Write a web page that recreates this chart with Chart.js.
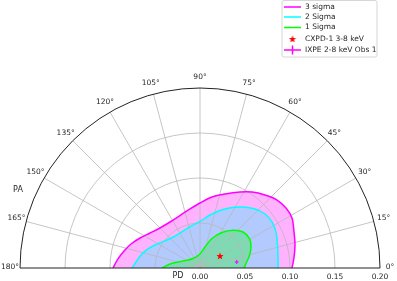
<!DOCTYPE html>
<html>
<head>
<meta charset="utf-8">
<script src="https://cdn.jsdelivr.net/npm/chart.js@4.4.1/dist/chart.umd.min.js"></script>
<style>
  html, body { margin: 0; padding: 0; background: #fff; }
  canvas { display: block; }
</style>
</head>
<body>
<canvas id="myChart" width="397" height="281"></canvas>
<script>
// confidence contours: PD (radius) and PA (degrees)
const sigma3PD = [0.0967, 0.0917, 0.0865, 0.0812, 0.0745, 0.0678, 0.0629, 0.0610, 0.0624, 0.0665, 0.0722,
                  0.0800, 0.0868, 0.0954, 0.1023, 0.1086, 0.1141, 0.1165, 0.1163, 0.1119, 0.1086, 0.1050, 0.1022];
const sigma3PA = [180, 173.7, 167.4, 160.8, 153.4, 145.0, 135.0, 123.1, 110.9, 99.6, 90,
                  80.4, 71.3, 62.2, 55.6, 48.3, 41.4, 34.9, 28.5, 21.0, 13.6, 6.1, 0];

const sigma2PD = [0.0756, 0.0714, 0.0671, 0.0615, 0.0547, 0.0481, 0.0449, 0.0453, 0.0480, 0.0517,
                  0.0599, 0.0677, 0.0760, 0.0829, 0.0896, 0.0939, 0.0949, 0.0934, 0.0898, 0.0874, 0.0867];
const sigma2PA = [180, 174.6, 167.6, 159.9, 150.8, 139.7, 126.4, 113.1, 100.7, 90,
                  79.3, 70.8, 62.1, 54.8, 47.0, 39.7, 32.6, 25.3, 16.5, 7.3, 0];

const sigma1PD = [0.0422, 0.0336, 0.0253, 0.0176, 0.0131, 0.0156, 0.0240, 0.0354,
                  0.0464, 0.0557, 0.0623, 0.0639, 0.0613, 0.0568, 0.0523, 0.0489];
const sigma1PA = [180, 172.4, 164.7, 151.8, 126.4, 90, 76.6, 67.9,
                  58.2, 48.8, 39.9, 30.6, 22.4, 14.4, 7.3, 0];

// measurements
const cxpdPD = [0.0259];
const cxpdPA = [31.0];
const ixpePD = [0.0413];
const ixpePA = [9.3];

// axes
const pdRings = [0.05, 0.10, 0.15, 0.20];
const pdTicks = [0.00, 0.05, 0.10, 0.15, 0.20];
const paTicks = [0, 15, 30, 45, 60, 75, 90, 105, 120, 135, 150, 165, 180];

const toXY = (pd, pa) => pd.map((r, i) => ({
  x: r * Math.cos(pa[i] * Math.PI / 180),
  y: r * Math.sin(pa[i] * Math.PI / 180)
}));

const FONT = '7.5px "DejaVu Sans"';
const TEXT = '#262626';

// filled red star for the CXPD point
const starImg = (() => {
  const c = document.createElement('canvas');
  c.width = 8; c.height = 8;
  const g = c.getContext('2d');
  g.fillStyle = '#ff0000';
  g.beginPath();
  for (let i = 0; i < 10; i++) {
    const r = i % 2 === 0 ? 3.8 : 1.6;
    const a = -Math.PI / 2 + i * Math.PI / 5;
    const px = 4 + r * Math.cos(a), py = 4.3 + r * Math.sin(a);
    i === 0 ? g.moveTo(px, py) : g.lineTo(px, py);
  }
  g.closePath();
  g.fill();
  return c;
})();

const polarGrid = {
  id: 'polarGrid',
  beforeDatasetsDraw(chart) {
    const {ctx, scales: {x, y}} = chart;
    const cx = x.getPixelForValue(0), cy = y.getPixelForValue(0);
    const R = x.getPixelForValue(0.2) - cx;
    ctx.save();
    ctx.strokeStyle = '#b8b8b8';
    ctx.lineWidth = 0.8;
    pdRings.slice(0, -1).forEach(r => {
      ctx.beginPath();
      ctx.arc(cx, cy, x.getPixelForValue(r) - cx, Math.PI, 2 * Math.PI);
      ctx.stroke();
    });
    paTicks.forEach(a => {
      if (a === 0 || a === 180) return;
      const t = a * Math.PI / 180;
      ctx.beginPath();
      ctx.moveTo(cx, cy);
      ctx.lineTo(cx + R * Math.cos(t), cy - R * Math.sin(t));
      ctx.stroke();
    });
    ctx.restore();
  },
  afterDatasetsDraw(chart) {
    const {ctx, scales: {x, y}} = chart;
    const cx = x.getPixelForValue(0), cy = y.getPixelForValue(0);
    const R = x.getPixelForValue(0.2) - cx;
    ctx.save();
    ctx.strokeStyle = '#222';
    ctx.lineWidth = 1;
    ctx.beginPath();
    ctx.arc(cx, cy, R, Math.PI, 2 * Math.PI);
    ctx.stroke();
    ctx.beginPath();
    ctx.moveTo(cx - R, cy);
    ctx.lineTo(cx + R, cy);
    ctx.stroke();

    ctx.font = FONT;
    ctx.fillStyle = TEXT;
    ctx.textAlign = 'center';
    ctx.textBaseline = 'middle';
    paTicks.forEach(a => {
      const t = a * Math.PI / 180;
      ctx.fillText(a + '°', cx + (R + 10) * Math.cos(t), cy - (R + 10) * Math.sin(t) - 1);
    });
    pdTicks.forEach(v => {
      ctx.fillText(v.toFixed(2), x.getPixelForValue(v), cy + 9);
    });
    ctx.font = '8px "DejaVu Sans"';
    ctx.fillText('PD', cx - 22, cy + 8);
    ctx.fillText('PA', cx - 182, cy - 78);
    ctx.restore();
  }
};

const boxLegend = {
  id: 'boxLegend',
  afterDraw(chart) {
    const {ctx} = chart;
    const rows = [7, 17, 27.5, 39, 50];
    ctx.save();
    ctx.fillStyle = 'rgba(255,255,255,0.8)';
    ctx.strokeStyle = '#cccccc';
    ctx.lineWidth = 0.8;
    ctx.beginPath();
    ctx.roundRect(282, 0.5, 95, 56.5, 2);
    ctx.fill();
    ctx.stroke();
    ctx.font = FONT;
    ctx.fillStyle = TEXT;
    ctx.textBaseline = 'middle';
    chart.data.datasets.forEach((ds) => {
      const yy = rows[ds.legendRow];
      ctx.strokeStyle = ds.borderColor;
      ctx.lineWidth = 1.5;
      if (ds.legendKind === 'line' || ds.legendKind === 'errorbar') {
        ctx.beginPath();
        ctx.moveTo(284, yy);
        ctx.lineTo(301, yy);
        ctx.stroke();
      }
      if (ds.legendKind === 'errorbar') {
        ctx.beginPath();
        ctx.moveTo(292.5, yy - 4.5);
        ctx.lineTo(292.5, yy + 4.5);
        ctx.stroke();
      }
      if (ds.legendKind === 'star') {
        ctx.drawImage(starImg, 288.5, yy - 4);
      }
      ctx.fillStyle = TEXT;
      ctx.fillText(ds.label, 305, yy);
    });
    ctx.restore();
  }
};

const contour = (label, pd, pa, line, fillColor, row) => ({
  type: 'line',
  label: label,
  data: toXY(pd, pa),
  borderColor: line,
  backgroundColor: fillColor,
  borderWidth: 1.5,
  fill: 'shape',
  tension: 0.3,
  pointRadius: 0,
  legendKind: 'line',
  legendRow: row
});

var ctx = document.getElementById('myChart').getContext('2d');
var chart = new Chart(ctx, {
  type: 'line',
  data: {
    datasets: [
      {
        type: 'scatter',
        label: 'CXPD-1 3-8 keV',
        data: toXY(cxpdPD, cxpdPA),
        pointStyle: starImg,
        borderColor: '#ff0000',
        legendKind: 'star',
        legendRow: 3
      },
      {
        type: 'scatter',
        label: 'IXPE 2-8 keV Obs 1',
        data: toXY(ixpePD, ixpePA),
        pointStyle: 'cross',
        pointRadius: 2,
        borderWidth: 1.2,
        borderColor: '#ff00ff',
        legendKind: 'errorbar',
        legendRow: 4
      },
      contour('1 Sigma', sigma1PD, sigma1PA, '#00ff00', 'rgb(125,218,179)', 2),
      contour('2 Sigma', sigma2PD, sigma2PA, '#00ffff', 'rgb(179,202,255)', 1),
      contour('3 sigma', sigma3PD, sigma3PA, '#ff00ff', 'rgb(255,179,255)', 0)
    ]
  },
  options: {
    responsive: false,
    animation: false,
    devicePixelRatio: 1,
    layout: { padding: { left: 20, right: 17, top: 88, bottom: 13 } },
    scales: {
      x: { type: 'linear', min: -0.2, max: 0.2, display: false },
      y: { type: 'linear', min: 0, max: 0.2, display: false }
    },
    plugins: {
      legend: { display: false },
      tooltip: { enabled: false },
      filler: { drawTime: 'beforeDatasetsDraw' }
    }
  },
  plugins: [polarGrid, boxLegend]
});
</script>
</body>
</html>
